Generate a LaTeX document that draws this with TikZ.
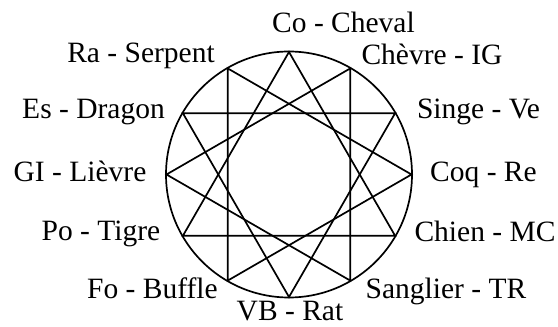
\documentclass[tikz,border=0pt]{standalone}
\usepackage{fontspec}
\setmainfont{Liberation Serif}
\begin{document}
\begin{tikzpicture}[x=1pt,y=1pt,
  lbl/.style={anchor=base,inner sep=0pt,font=\fontsize{29.5}{30}\selectfont},
  tri/.style={line width=1.7pt,line join=miter},
  ring/.style={line width=1.7pt}]
\useasboundingbox (0,0) rectangle (558,327);
\coordinate (c) at (289,152.5);
\foreach \n/\a in {co/90,chevre/60,singe/30,coq/0,chien/-30,sanglier/-60,vb/-90,fo/-120,po/-150,gi/180,es/150,ra/120}
  \path (c) ++(\a:122.5) coordinate (\n);
\draw[ring] (c) circle (123);
\draw[tri] (co) -- (po) -- (chien) -- cycle;
\draw[tri] (chevre) -- (gi) -- (sanglier) -- cycle;
\draw[tri] (singe) -- (es) -- (vb) -- cycle;
\draw[tri] (ra) -- (fo) -- (coq) -- cycle;
\node[lbl] (lco) at (343.5,294) {Co - Cheval};
\node[lbl] (lra) at (141,264) {Ra - Serpent};
\node[lbl] (lchevre) at (432,262) {Chèvre - IG};
\node[lbl] (les) at (93.5,208) {Es - Dragon};
\node[lbl] (lsinge) at (478.5,208) {Singe - Ve};
\node[lbl] (lgi) at (80,145.3) {GI - Lièvre};
\node[lbl] (lcoq) at (483.5,145.3) {Coq - Re};
\node[lbl] (lpo) at (101,86.5) {Po - Tigre};
\node[lbl] (lchien) at (485,85) {Chien - MC};
\node[lbl] (lfo) at (152.5,28.3) {Fo - Buffle};
\node[lbl] (lsanglier) at (446,28.3) {Sanglier - TR};
\node[lbl] (lvb) at (290,6.5) {VB - Rat};
\end{tikzpicture}
\end{document}
